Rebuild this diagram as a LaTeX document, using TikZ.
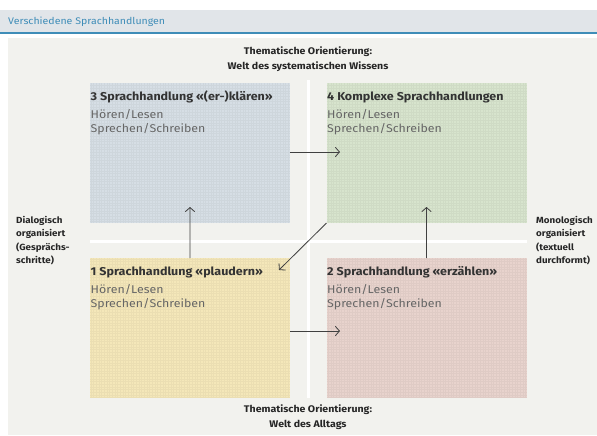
\documentclass[tikz,border=0pt]{standalone}
\usepackage{fontspec}
\setmainfont{Fira Sans}[FakeStretch=1.1]
\usetikzlibrary{positioning,arrows.meta}
\definecolor{kopfgrau}{HTML}{E1E5E9}
\definecolor{kopfblau}{HTML}{3F8DB8}
\definecolor{grund}{HTML}{F2F2EE}
\definecolor{feldblau}{HTML}{D6DEE5}
\definecolor{feldgruen}{HTML}{D7E4CD}
\definecolor{feldgelb}{HTML}{F4E7B9}
\definecolor{feldrot}{HTML}{E8D3CD}
\definecolor{pfeil}{HTML}{404040}
\tikzset{
  feld/.style={anchor=north west, minimum width=6cm, minimum height=4.2cm, inner sep=0pt, outer sep=0pt},
  gewebe/.style={line width=0.2pt, opacity=0.18, step=0.08cm},
  titel/.style={anchor=base west, inner sep=0pt, font=\bfseries\fontsize{9.7}{12}\selectfont, text=black!80},
  koerper/.style={anchor=base west, inner sep=0pt, align=left, font=\fontsize{9.6}{11.9}\selectfont, text=black!60},
  achse/.style={inner sep=0pt, align=center, font=\bfseries\fontsize{8.2}{12.7}\selectfont, text=black!85},
  seite/.style={inner sep=0pt, align=left, anchor=west, font=\bfseries\fontsize{7.6}{11.5}\selectfont, text=black!85},
  pfeilstrich/.style={draw=pfeil, line width=0.7pt, -{Straight Barb[length=3.5pt,width=8pt]}}
}
\begin{document}
\begin{tikzpicture}[x=0.03cm,y=-0.03cm]
  \useasboundingbox (0,0) rectangle (597,435);

  % Kopfzeile
  \fill [kopfgrau] (0,10) rectangle (597,32);
  \fill [kopfblau] (0,32.3) rectangle (597,34.3);
  \node (kopf) [anchor=west, inner sep=0pt, font=\fontsize{8.2}{11}\selectfont, text=kopfblau] at (8,22) {Verschiedene Sprachhandlungen};

  % Grund
  \fill [grund] (8,38) rectangle (597,435);

  % Felder
  \node (k3) [feld, fill=feldblau] at (90,83) {};
  \node (k4) [feld, fill=feldgruen] at (326.5,83) {};
  \node (k1) [feld, fill=feldgelb] at (90,258) {};
  \node (k2) [feld, fill=feldrot] at (326.5,258) {};
  \draw [gewebe, draw=feldblau!80!black] (k3.south west) grid (k3.north east);
  \draw [gewebe, draw=feldgruen!80!black] (k4.south west) grid (k4.north east);
  \draw [gewebe, draw=feldgelb!80!black] (k1.south west) grid (k1.north east);
  \draw [gewebe, draw=feldrot!80!black] (k2.south west) grid (k2.north east);

  % Weisse Trennlinien
  \fill [white] (306.5,80) rectangle (309.5,398);
  \fill [white] (90,239.5) rectangle (527,242.5);

  % Feld 3
  \node (t3) [titel] at (90.5,100) {3 Sprachhandlung «(er-)klären»};
  \node (l3) [koerper] at (90.5,132) {Hören/Lesen\\Sprechen/Schreiben};

  % Feld 4
  \node (t4) [titel] at (327,100) {4 Komplexe Sprachhandlungen};
  \node (l4) [koerper] at (327,132) {Hören/Lesen\\Sprechen/Schreiben};

  % Feld 1
  \node (t1) [titel] at (90.5,275) {1 Sprachhandlung «plaudern»};
  \node (l1) [koerper] at (90.5,307) {Hören/Lesen\\Sprechen/Schreiben};

  % Feld 2
  \node (t2) [titel] at (327,275) {2 Sprachhandlung «erzählen»};
  \node (l2) [koerper] at (327,307) {Hören/Lesen\\Sprechen/Schreiben};

  % Achsen
  \node (oben) [achse] at (308,59) {Thematische Orientierung:\\Welt des systematischen Wissens};
  \node (unten) [achse] at (308,417) {Thematische Orientierung:\\Welt des Alltags};
  \node (links) [seite] at (16,240.5) {Dialogisch\\organisiert\\(Gesprächs-\\schritte)};
  \node (rechts) [seite] at (536,240.5) {Monologisch\\organisiert\\(textuell\\durchformt)};

  % Pfeile
  \coordinate (e34) at (340,152);
  \coordinate (e13) at (190,207);
  \coordinate (e24) at (426.5,207);
  \coordinate (e41) at (279,270);
  \coordinate (e12) at (340,331);
  \draw [pfeilstrich] (k3.east |- e34) -- (e34);
  \draw [pfeilstrich] (k1.north) -- (e13);
  \draw [pfeilstrich] (k2.north) -- (e24);
  \draw [pfeilstrich] (k4.south west) -- (e41);
  \draw [pfeilstrich] (k1.east |- e12) -- (e12);
\end{tikzpicture}
\end{document}
